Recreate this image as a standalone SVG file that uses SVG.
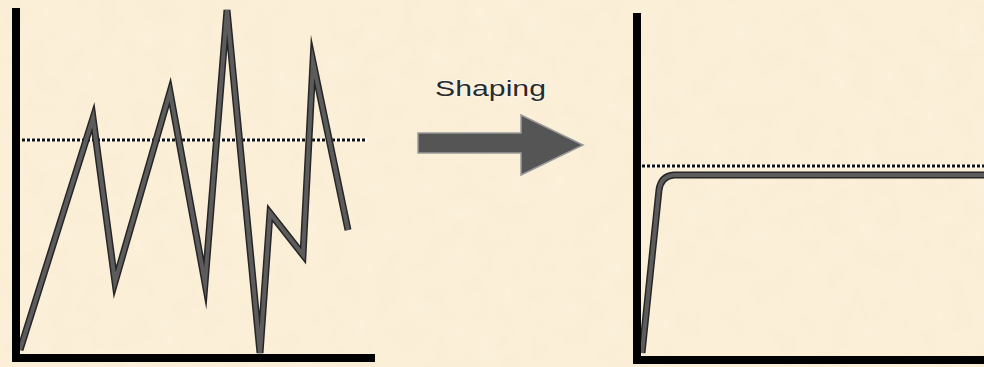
<svg xmlns="http://www.w3.org/2000/svg" width="984" height="367" viewBox="0 0 984 367">
  <defs>
    <filter id="paper" x="0" y="0" width="100%" height="100%">
      <feTurbulence type="fractalNoise" baseFrequency="0.04" numOctaves="3" seed="4" result="n"/>
      <feColorMatrix in="n" type="matrix" values="0 0 0 0 0.99  0 0 0 0 0.93  0 0 0 0 0.80  0 0 0 0.35 0"/>
    </filter>
  </defs>
  <style>
    .axis { fill: none; stroke: #000; stroke-width: 8; stroke-linecap: square; stroke-linejoin: miter; }
    .wave-out { fill: none; stroke: #262626; stroke-width: 7; stroke-linejoin: miter; stroke-miterlimit: 10; }
    .wave-in { fill: none; stroke: #5c5c5c; stroke-width: 4; stroke-linejoin: miter; stroke-miterlimit: 10; }
    .dot-bg { stroke: #ffffff; stroke-width: 3; }
    .dot { stroke: #111; stroke-width: 3; stroke-dasharray: 3 2; }
    .label { font-family: "Liberation Sans", Arial, sans-serif; font-size: 22px; fill: #2a2a2a; stroke: #fff; stroke-width: 0.8; paint-order: stroke; }
  </style>
  <rect width="984" height="367" fill="#FAEDD4"/>
  <rect width="984" height="367" filter="url(#paper)"/>

  <g id="chart-before">
    <line class="dot-bg" x1="22" y1="140" x2="367" y2="140"/>
    <line class="dot" x1="22" y1="140" x2="367" y2="140"/>
    <polyline class="wave-out" points="20,350 93,118 115,282 170,92 205,283 227,10 260,353 270,213 303,255 313,62 348,230"/>
    <polyline class="wave-in" points="20,350 93,118 115,282 170,92 205,283 227,10 260,353 270,213 303,255 313,62 348,230"/>
    <path class="axis" d="M16,12 L16,358 L371,358"/>
  </g>

  <g id="shaping-arrow">
    <text class="label" x="435" y="96" textLength="111" lengthAdjust="spacingAndGlyphs">Shaping</text>
    <path d="M418,133 L521,133 L521,115 L583,145 L521,175 L521,153 L418,153 Z" fill="#555" stroke="#999" stroke-width="1.5"/>
  </g>

  <g id="chart-after">
    <line class="dot-bg" x1="642" y1="166" x2="984" y2="166"/>
    <line class="dot" x1="642" y1="166" x2="984" y2="166"/>
    <path class="wave-out" d="M642,353 L659,190 Q661,176 674,175 L984,175" stroke-width="6"/>
    <path class="wave-in" d="M642,353 L659,190 Q661,176 674,175 L984,175" stroke-width="3"/>
    <path class="axis" d="M637,17 L637,360 L984,360"/>
  </g>
</svg>
